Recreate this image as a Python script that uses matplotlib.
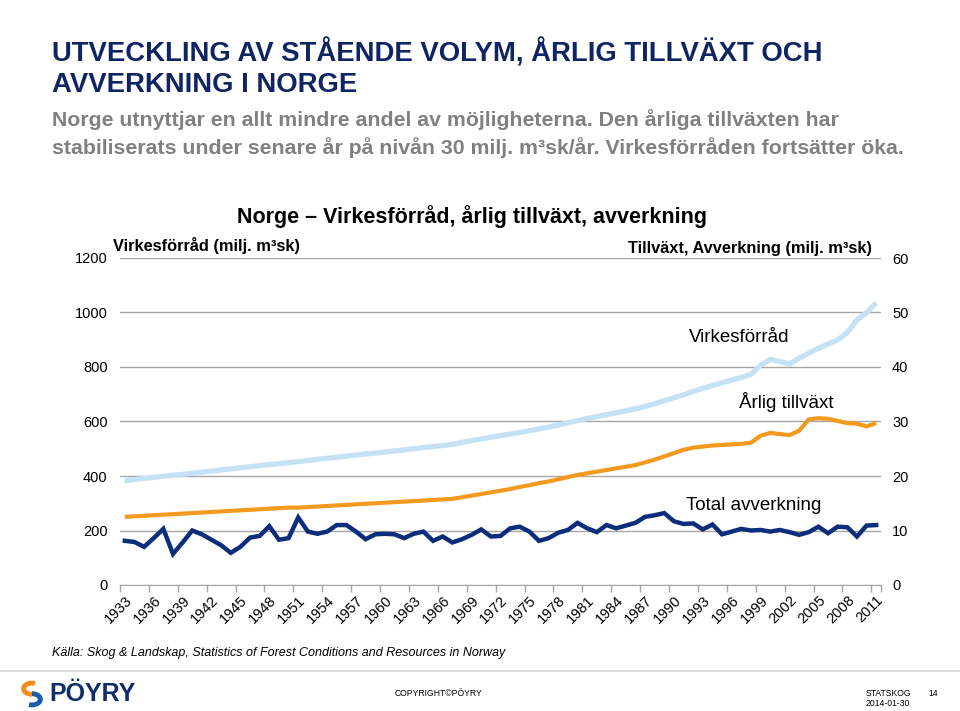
import numpy as np
import matplotlib.pyplot as plt
from matplotlib import font_manager
from matplotlib.patches import Arc

# data (milj. m3sk)
years = list(range(1933, 2012))

virkesforrad = [383, 387, 391, 395, 399, 403, 406, 410, 414, 418,
                422, 426, 430, 434, 438, 442, 445, 449, 453, 457,
                461, 465, 469, 473, 477, 481, 484, 488, 492, 496,
                500, 504, 508, 512, 516, 523, 530, 536, 542, 548,
                554, 560, 566, 573, 580, 587, 595, 603, 611, 618,
                625, 632, 639, 646, 655, 665, 676, 687, 698, 710,
                722, 732, 742, 752, 762, 773, 807, 828, 820, 811,
                832, 851, 869, 884, 899, 926, 973, 999, 1036]

tillvaxt = [12.5, 12.6, 12.7, 12.8, 12.9, 13.0, 13.1, 13.2, 13.3, 13.4,
            13.5, 13.6, 13.7, 13.8, 13.9, 14.0, 14.1, 14.2, 14.2, 14.3,
            14.4, 14.5, 14.6, 14.7, 14.8, 14.9, 15.0, 15.1, 15.2, 15.3,
            15.4, 15.5, 15.6, 15.7, 15.8, 16.1, 16.4, 16.7, 17.0, 17.3,
            17.6, 18.0, 18.3, 18.7, 19.0, 19.4, 19.8, 20.2, 20.5, 20.8,
            21.1, 21.4, 21.7, 22.0, 22.5, 23.0, 23.6, 24.2, 24.8, 25.2,
            25.4, 25.6, 25.7, 25.8, 25.9, 26.1, 27.4, 27.9, 27.7, 27.5,
            28.3, 30.4, 30.6, 30.5, 30.1, 29.7, 29.6, 29.1, 29.7]

avverkning = [8.1, 7.9, 7.0, 8.6, 10.3, 5.7, 7.8, 10.0, 9.3, 8.3,
              7.3, 5.9, 7.0, 8.7, 9.0, 10.8, 8.3, 8.6, 12.4, 9.8,
              9.4, 9.8, 11.0, 11.0, 9.8, 8.4, 9.3, 9.4, 9.3, 8.6,
              9.4, 9.8, 8.1, 8.9, 7.8, 8.4, 9.2, 10.2, 8.9, 9.0,
              10.4, 10.7, 9.8, 8.1, 8.6, 9.6, 10.1, 11.4, 10.4, 9.7,
              11.0, 10.4, 10.9, 11.4, 12.5, 12.8, 13.2, 11.7, 11.2, 11.3,
              10.2, 11.1, 9.3, 9.8, 10.3, 10.0, 10.1, 9.8, 10.1, 9.7,
              9.2, 9.7, 10.7, 9.5, 10.7, 10.6, 8.9, 10.9, 11.0]

left_ticks = [0, 200, 400, 600, 800, 1000, 1200]
right_ticks = [0, 10, 20, 30, 40, 50, 60]

# narrow font if it is there
names = {f.name for f in font_manager.fontManager.ttflist}
FONT = 'Liberation Sans Narrow' if 'Liberation Sans Narrow' in names else 'Liberation Sans'
plt.rcParams['font.family'] = [FONT, 'DejaVu Sans']

NAVY = '#0f2463'
LIGHT = '#c4e2f3'
ORANGE = '#f39a1e'
DARK = '#0b2d7c'
GRID = '#a6a6a6'

fig = plt.figure(figsize=(9.6, 7.11), dpi=100)
ax = fig.add_axes([120/960, 1-585/711, 761/960, 327/711])
ax2 = ax.twinx()

x = np.arange(len(years))
ax.plot(x, virkesforrad, color=LIGHT, lw=3.8, solid_capstyle='butt', zorder=3)
ax2.plot(x, tillvaxt, color=ORANGE, lw=3.0, solid_capstyle='butt', zorder=3)
ax2.plot(x, avverkning, color=DARK, lw=3.2, solid_joinstyle='miter', zorder=3)

ax.set_xlim(-0.5, len(years) - 0.5)
ax.set_ylim(0, 1200)
ax2.set_ylim(0, 60)
ax.set_yticks(left_ticks)
ax2.set_yticks(right_ticks)
ax.yaxis.grid(True, color=GRID, lw=1.0)
ax.set_axisbelow(True)
ax.tick_params(axis='y', length=0, pad=9, labelsize=10.5)
ax2.tick_params(axis='y', length=0, pad=8, labelsize=10.5)

for a in (ax, ax2):
    for s in a.spines.values():
        s.set_visible(False)
ax.spines['bottom'].set_visible(True)
ax.spines['bottom'].set_color(GRID)

ax.set_xticks(x[::3])
ax.set_xticklabels([str(y) for y in years[::3]], rotation=45, ha='right', va='top',
                   rotation_mode='anchor', fontsize=10.5)
ax.set_xticks(list(np.arange(-0.5, len(years), 3)) + [len(years) - 0.5], minor=True)
ax.tick_params(axis='x', which='major', length=0, pad=6)
ax.tick_params(axis='x', which='minor', length=5, color=GRID, width=1)

# series labels
ax2.text(63.8, 45.5, 'Virkesförråd', fontsize=13.5, ha='center', va='center')
ax2.text(68.7, 33.6, 'Årlig tillväxt', fontsize=13.5, ha='center', va='center')
ax2.text(65.3, 14.5, 'Total avverkning', fontsize=13.5, ha='center', va='center')

# slide texts
fig.text(52/960, 1-53/711, 'UTVECKLING AV STÅENDE VOLYM, ÅRLIG TILLVÄXT OCH',
         fontsize=19.8, fontweight='bold', color=NAVY, va='center')
fig.text(52/960, 1-85/711, 'AVVERKNING I NORGE',
         fontsize=19.8, fontweight='bold', color=NAVY, va='center')
fig.text(52/960, 1-120/711, 'Norge utnyttjar en allt mindre andel av möjligheterna. '
         'Den årliga tillväxten har', fontsize=15.3, fontweight='bold', color='#808080', va='center')
fig.text(52/960, 1-148/711, 'stabiliserats under senare år på nivån 30 milj. m³sk/år. '
         'Virkesförråden fortsätter öka.', fontsize=15.3, fontweight='bold', color='#808080', va='center')

fig.text(472/960, 1-217/711, 'Norge – Virkesförråd, årlig tillväxt, avverkning',
         fontsize=15.5, fontweight='bold', ha='center', va='center')
fig.text(113/960, 1-246/711, 'Virkesförråd (milj. m³sk)', fontsize=11.8, fontweight='bold', va='center')
fig.text(872/960, 1-248/711, 'Tillväxt, Avverkning (milj. m³sk)', fontsize=11.8,
         fontweight='bold', ha='right', va='center')

fig.text(52/960, 1-653/711, 'Källa: Skog & Landskap, Statistics of Forest Conditions and Resources in Norway',
         fontsize=9, style='italic', va='center')

# footer
fig.add_artist(plt.Line2D([0, 1], [1-671/711, 1-671/711], color='#d9d9d9', lw=1.2))
ax_logo = fig.add_axes([18/960, 1-708/711, 28/960, 28/711])
ax_logo.set_xlim(-1, 1)
ax_logo.set_ylim(-1, 1)
ax_logo.axis('off')
ax_logo.add_patch(Arc((0, 0.38), 1.2, 0.8, theta1=60, theta2=270, color='#f28c1c', lw=3.5))
ax_logo.add_patch(Arc((0, -0.38), 1.2, 0.8, theta1=-120, theta2=90, color='#1b5ea8', lw=3.5))
fig.text(49/960, 1-694/711, 'PÖYRY', fontsize=18, fontweight='bold', color='#0f2d6b',
         va='center', family=['Liberation Sans', 'DejaVu Sans'])
fig.text(395/960, 1-694/711, 'COPYRIGHT©PÖYRY', fontsize=6.2, va='center')
fig.text(866/960, 1-693/711, 'STATSKOG', fontsize=6.2, va='center')
fig.text(866/960, 1-704/711, '2014-01-30', fontsize=6.2, va='center')
fig.text(928/960, 1-693/711, '14', fontsize=6.2, va='center')

fig.savefig('out.png', dpi=100, facecolor='white')
